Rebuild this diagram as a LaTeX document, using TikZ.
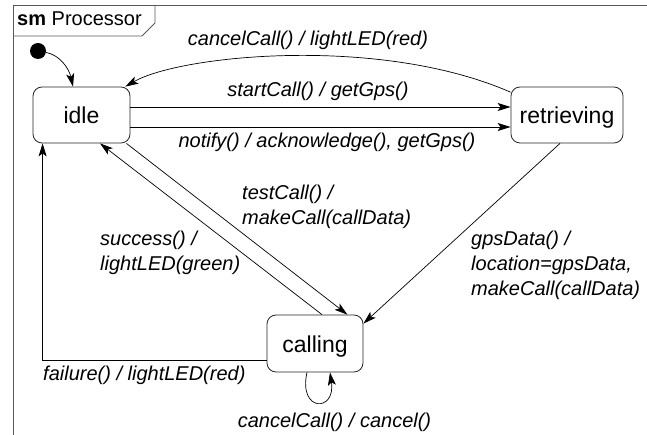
\documentclass[tikz,border=0pt]{standalone}
\usepackage{fontspec}
\setmainfont{Liberation Sans}
\usetikzlibrary{arrows.meta}
\begin{document}
\begin{tikzpicture}[x=1pt,y=-1pt,
  statebox/.style={draw=black!85,line width=0.8pt,rounded corners=9pt,fill=white,
    font=\fontsize{23}{27}\selectfont,text height=17pt,text depth=0pt,inner sep=0pt},
  trans/.style={draw=black,line width=0.7pt,-{Stealth[length=13pt,width=8pt,inset=3pt]}},
  lbl/.style={font=\fontsize{20}{25}\selectfont\itshape,inner sep=0pt},
  frameline/.style={draw=black!65,line width=0.9pt}]
\useasboundingbox (0,0) rectangle (647,435);
% frame
\draw[frameline] (647,5) -- (13,5) -- (13,435);
\draw[frameline] (13,36) -- (142,36) -- (155,23) -- (155,5);
\node[anchor=base west,inner sep=0pt,font=\fontsize{20}{24}\selectfont] (title) at (17,26) {\textbf{sm} Processor};
% states
\node[statebox,minimum width=97pt,minimum height=56pt] (idle) at (81.5,115) {idle};
\node[statebox,minimum width=112pt,minimum height=56pt] (retrieving) at (567,115) {retrieving};
\node[statebox,minimum width=96pt,minimum height=57pt] (calling) at (315,343.5) {calling};
\node[circle,fill=black,inner sep=0pt,minimum size=16pt] (init) at (38,51) {};
% transitions
\draw[trans] (init) .. controls +(22,4) and +(-4,-18) .. ([xshift=-8.5pt]idle.north);
\draw[trans] (retrieving.158) .. controls (380,35) and (180,55) .. ([xshift=-5pt]idle.north east);
\draw[trans] ([yshift=8pt]idle.east) -- ([yshift=8pt]retrieving.west);
\draw[trans] ([yshift=-12pt]idle.east) -- ([yshift=-12pt]retrieving.west);
\draw[trans] ([xshift=-4pt]idle.south east) -- ([xshift=-16pt]calling.north east);
\draw[trans] ([xshift=7pt]calling.north) -- ([xshift=18.5pt]idle.south);
\draw[trans] ([xshift=-7pt]retrieving.south) -- ([yshift=-9pt]calling.north east);
\draw[trans] ([yshift=-16.5pt]calling.west) -| ([xshift=10pt]idle.south west);
\draw[trans] ([xshift=-8pt]calling.south) .. controls +(-9,40) and +(6,40) .. ([xshift=15pt]calling.south);
% labels
\node[lbl,anchor=base] (l1) at (308,46) {cancelCall() / lightLED(red)};
\node[lbl,anchor=base] (l2) at (318,97) {startCall() / getGps()};
\node[lbl,anchor=base] (l3) at (327,148) {notify() / acknowledge(), getGps()};
\node[lbl,anchor=north west,align=left] (l4) at (242,184.5) {testCall() /\\makeCall(callData)};
\node[lbl,anchor=north west,align=left] (l5) at (100,230.5) {success() /\\lightLED(green)};
\node[lbl,anchor=north west,align=left] (l6) at (471,230.5) {gpsData() /\\location=gpsData,\\makeCall(callData)};
\node[lbl,anchor=base west] (l7) at (43,380) {failure() / lightLED(red)};
\node[lbl,anchor=base] (l8) at (334.5,427) {cancelCall() / cancel()};
\end{tikzpicture}
\end{document}
